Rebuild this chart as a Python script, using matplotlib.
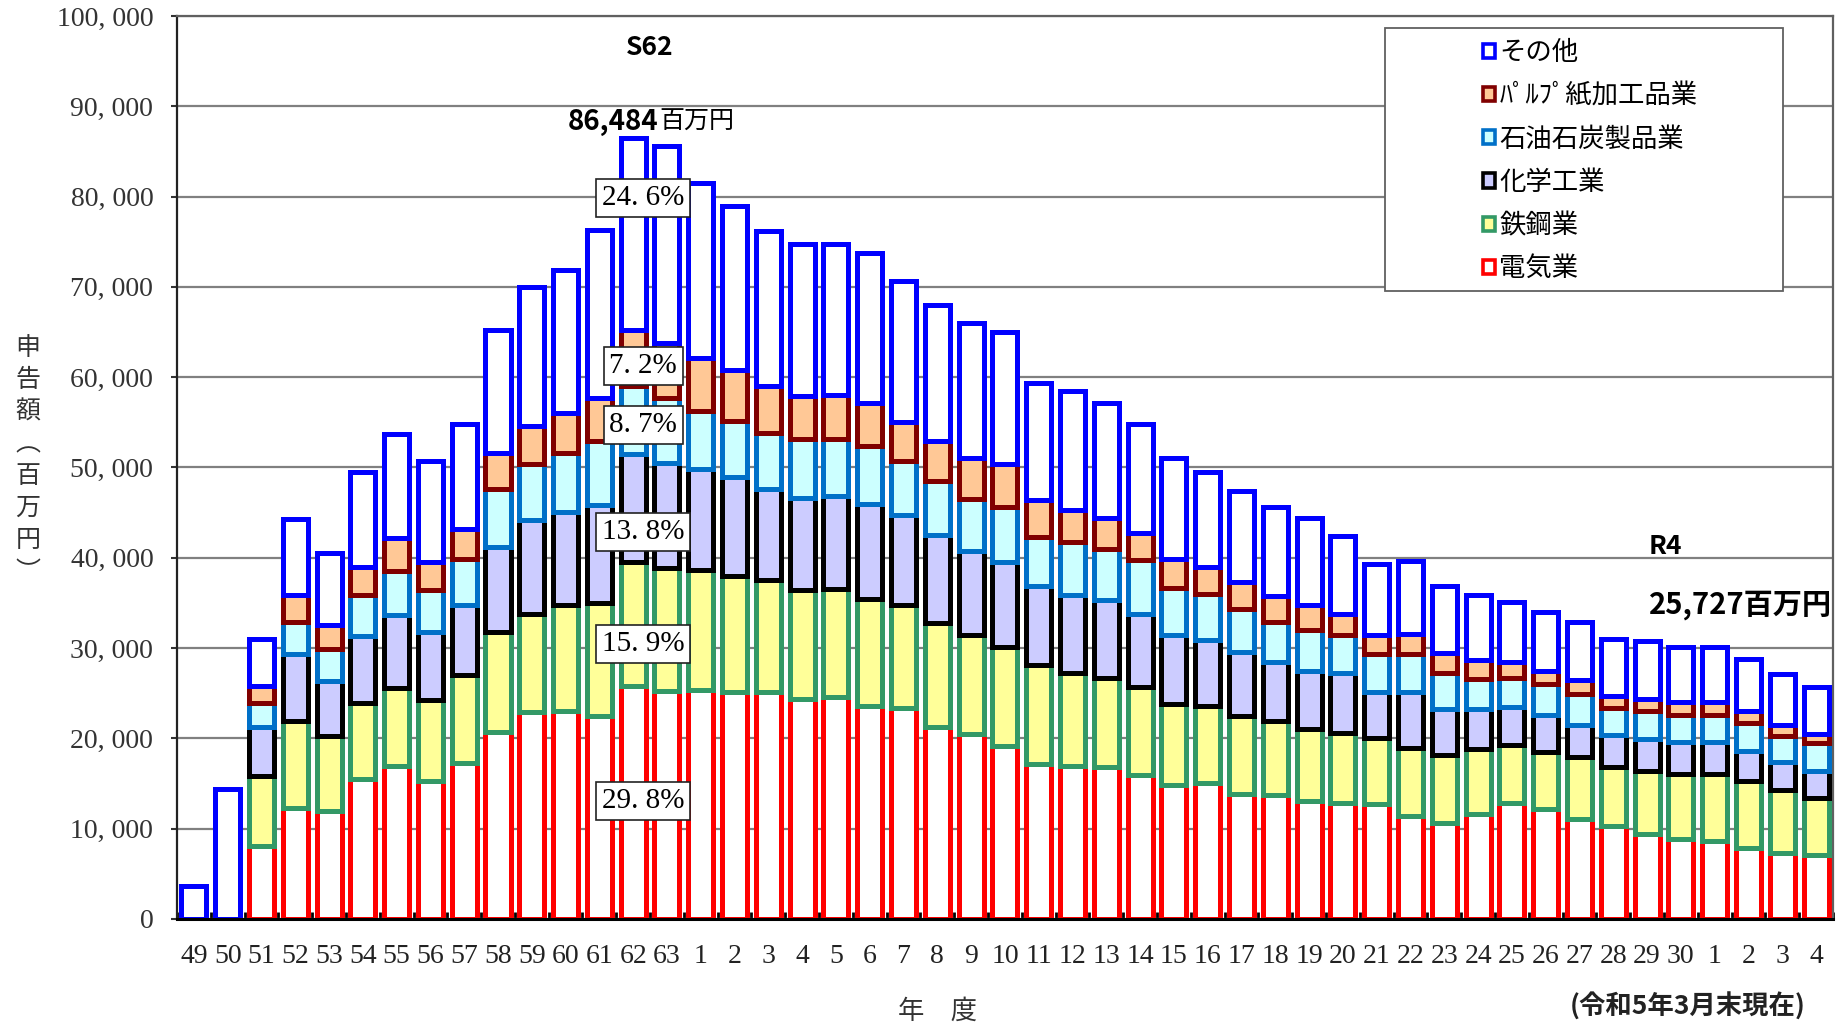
import numpy as np
import matplotlib
matplotlib.use("Agg")
import matplotlib.pyplot as plt
from matplotlib.patches import Patch, Rectangle

plt.rcParams['font.family'] = ['Liberation Serif', 'Noto Sans CJK JP']
JP = ['Noto Sans CJK JP', 'DejaVu Sans']

# fiscal years: Showa 49-63, Heisei 1-30, Reiwa 1-4
years = ['49', '50', '51', '52', '53', '54', '55', '56', '57', '58', '59', '60', '61', '62', '63'] + \
        [str(i) for i in range(1, 31)] + ['1', '2', '3', '4']

# amounts per industry (million yen)
denki = [0, 0, 8070, 12330, 11960, 15480, 16960, 15300, 17330, 20670, 22890, 23080, 22520, 25772, 25300,
         25410, 25190, 25110, 24370, 24560, 23560, 23340, 21220, 20480, 19190, 17150, 16960, 16780, 15930, 14820,
         15110, 13820, 13700, 13080, 12890, 12700, 11410, 10670, 11590, 12890, 12150, 11110, 10300, 9370, 8820,
         8630, 7890, 7260, 7040]
tekko = [0, 0, 7780, 9630, 8260, 8450, 8600, 8960, 9710, 11110, 10930, 11660, 12520, 13751, 13520,
         13220, 12810, 12410, 12040, 11960, 11920, 11400, 11600, 10930, 10920, 10930, 10300, 9890, 9740, 9000,
         8520, 8700, 8260, 7960, 7700, 7300, 7480, 7480, 7230, 6370, 6370, 6780, 6480, 7040, 7220,
         7410, 7410, 7040, 6410]
kagaku = [0, 0, 5450, 7410, 6190, 7370, 8070, 7520, 7700, 9450, 10370, 10370, 10860, 11935, 11730,
          11190, 10900, 10090, 10240, 10360, 10520, 10000, 9700, 9330, 9450, 8810, 8590, 8630, 8150, 7590,
          7220, 7040, 6490, 6370, 6670, 5110, 6220, 5110, 4440, 4190, 4070, 3590, 3590, 3520, 3520,
          3520, 3330, 3110, 2960]
sekiyu = [0, 0, 2600, 3520, 3520, 4550, 4890, 4630, 5120, 6380, 6180, 6540, 7040, 7524, 7160,
          6420, 6240, 6240, 6470, 6240, 6390, 5990, 6010, 5760, 6110, 5450, 5930, 5670, 5920, 5260,
          5190, 4810, 4440, 4560, 4220, 4260, 4260, 4000, 3340, 3220, 3450, 3450, 2970, 3150, 3030,
          3030, 3070, 2890, 3070]
pulp = [0, 0, 1880, 2960, 2590, 3150, 3710, 3150, 3330, 4040, 4220, 4410, 4770, 6227, 6060,
        5880, 5690, 5140, 4770, 4960, 4770, 4340, 4410, 4600, 4700, 4030, 3520, 3400, 2970, 3190,
        2960, 2970, 2890, 2850, 2340, 2040, 2230, 2220, 2030, 1780, 1370, 1590, 1400, 1290, 1410,
        1410, 1380, 1180, 1000]
sonota = [3700, 14400, 5260, 8450, 7970, 10450, 11440, 11170, 11580, 13590, 15420, 15780, 18610, 21275, 21840,
          19340, 18100, 17150, 16820, 16630, 16630, 15560, 15050, 14870, 14680, 12990, 13140, 12790, 12060, 11240,
          10500, 10060, 9820, 9630, 8630, 7850, 8030, 7410, 7220, 6660, 6590, 6370, 6300, 6370, 6110,
          6110, 5740, 5670, 5247]

names = ['電気業', '鉄鋼業', '化学工業', '石油石炭製品業', 'ﾊﾟﾙﾌﾟ紙加工品業', 'その他']
series = [denki, tekko, kagaku, sekiyu, pulp, sonota]
edges = ['#FF0000', '#339966', '#000000', '#0070C8', '#800000', '#0000FF']
fills = ['#FFFFFF', '#FFFF99', '#CCCCFF', '#CCFFFF', '#FFC896', '#FFFFFF']

# S62 shares (%)
pct_labels = ['29.8%', '15.9%', '13.8%', '8.7%', '7.2%', '24.6%']
pct_y = [13070, 30450, 42860, 54700, 61240, 79840]

fig = plt.figure(figsize=(18.49, 10.26), dpi=100)
ax = fig.add_axes([0.0957, 0.1043, 0.8956, 0.8801])

x = np.arange(len(years))
bottom = np.zeros(len(years))
for k, vals in enumerate(series):
    vals = np.array(vals, dtype=float)
    m = vals > 0
    ax.bar(x[m], vals[m], bottom=bottom[m], width=0.74, color=fills[k], edgecolor=edges[k],
           linewidth=3.6, zorder=2 + k)
    bottom += vals

ax.set_xlim(-0.5, len(years) - 0.5)
ax.set_ylim(0, 100000)
ax.set_yticks(np.arange(0, 100001, 10000))
ax.set_yticklabels([f"{v:,}".replace(",", ", ") for v in range(0, 100001, 10000)], fontsize=20, color='#333333')
ax.set_xticks(x)
ax.set_xticklabels(years, fontsize=20, color='#222222')
ax.set_xticks(np.arange(-0.5, len(years), 1), minor=True)
ax.tick_params(axis='x', which='major', length=0, pad=18)
ax.tick_params(axis='x', which='minor', direction='in', length=5, width=2, color='black')
ax.tick_params(axis='y', length=4, width=1.5, pad=13, color='#333333')
ax.yaxis.grid(True, color='#808080', lw=1.6)
ax.set_axisbelow(True)
for s in ['top', 'right', 'left']:
    ax.spines[s].set_color('#606060')
    ax.spines[s].set_linewidth(1.6)
ax.spines['left'].set_color('#222222')
ax.spines['bottom'].set_color('black')
ax.spines['bottom'].set_linewidth(2.2)
ax.spines['bottom'].set_zorder(20)

# percentage boxes on S62
for lab, yy in zip(pct_labels, pct_y):
    ax.text(13.3, yy, lab.replace(".", ". "), ha='center', va='center', fontsize=21, zorder=30,
            bbox=dict(boxstyle='square,pad=0.2', fc='white', ec='#222222', lw=1.2))

ax.text(13.5, 96500, 'S62', ha='center', va='center', fontsize=19, fontweight='bold', family=JP, zorder=30)
ax.text(13.76, 88300, '86,484', ha='right', va='center', fontsize=20, fontweight='bold', family=JP, zorder=30)
ax.text(13.78, 88300, '百万円', ha='left', va='center', fontsize=18, family=JP, zorder=30)
ax.text(43.05, 41200, 'R4', ha='left', va='center', fontsize=19, fontweight='bold', family=JP, zorder=30)
ax.text(43.05, 34770, '25,727百万円', ha='left', va='center', fontsize=21, fontweight='bold', family=JP, zorder=30)

# legend
ax.add_patch(Rectangle((0.7295, 0.6955), 0.2405, 0.291, transform=ax.transAxes,
                       fc='white', ec='#606060', lw=1.3, zorder=40))
handles = [Patch(facecolor=fills[k], edgecolor=edges[k], linewidth=2.6) for k in range(5, -1, -1)]
labels = [names[k] for k in range(5, -1, -1)]
leg = ax.legend(handles, labels, loc='upper left', bbox_to_anchor=(0.781, 0.989), frameon=False,
                borderpad=0, handlelength=0.45, handleheight=0.45, handletextpad=0.15,
                labelspacing=0.615, prop={'family': JP, 'size': 19})
leg.set_zorder(41)

fig.text(28 / 1849, 1 - 460 / 1026, '申\n告\n額\n︵\n百\n万\n円\n︶', ha='center', va='center',
         fontsize=18, linespacing=1.3, family=JP, color='#333333')
fig.text(0.507, 0.014, '年　度', ha='center', va='center', fontsize=19, family=JP, color='#333333')
fig.text(1688 / 1849, 0.019, '(令和5年3月末現在)', ha='center', va='center', fontsize=19,
         fontweight='bold', family=JP, color='#222222')

fig.savefig('out.png', dpi=100)
